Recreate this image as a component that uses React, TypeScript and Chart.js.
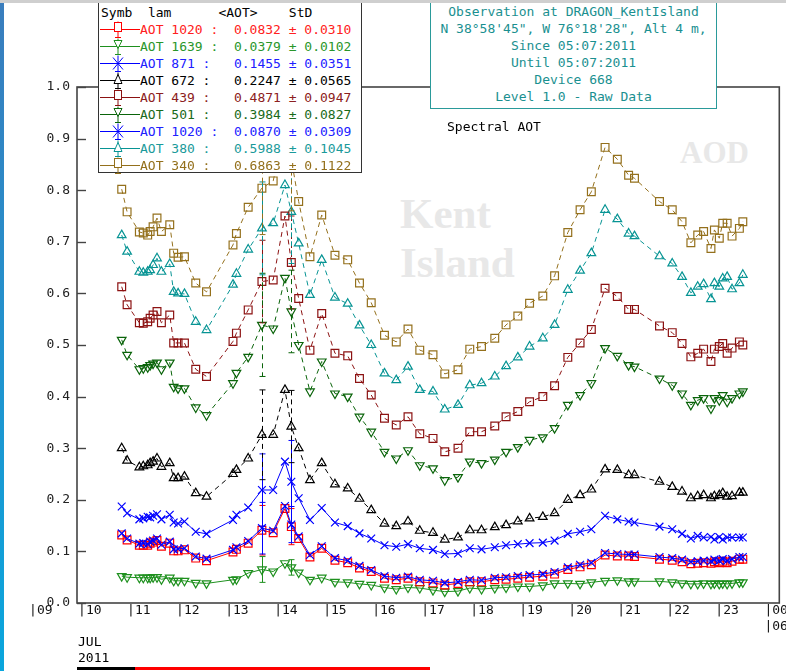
import React, { useEffect, useRef } from 'react';
import { Chart, registerables } from 'chart.js';

Chart.register(...registerables);

// ---- data (hours UTC, 05 Jul 2011) ----
const TIMES = [10.81, 10.92, 11.17, 11.25, 11.34, 11.39, 11.45, 11.53, 11.62, 11.79, 11.87, 11.96, 12.09, 12.32, 12.54, 13.08, 13.15, 13.39, 13.67, 13.90, 14.14, 14.27, 14.42, 14.65, 14.89, 15.16, 15.42, 15.66, 15.90, 16.17, 16.41, 16.65, 16.89, 17.16, 17.40, 17.67, 17.91, 18.15, 18.42, 18.65, 18.89, 19.13, 19.40, 19.64, 19.91, 20.16, 20.39, 20.67, 20.92, 21.15, 21.27, 21.78, 22.04, 22.24, 22.42, 22.56, 22.68, 22.83, 22.90, 23.00, 23.07, 23.16, 23.26, 23.41, 23.48];

const AOT_1020_A = [0.132, 0.122, 0.112, 0.112, 0.112, 0.116, 0.118, 0.121, 0.110, 0.116, 0.101, 0.101, 0.103, 0.087, 0.082, 0.099, 0.104, 0.116, 0.141, 0.136, 0.183, 0.148, 0.125, 0.089, 0.106, 0.083, 0.078, 0.068, 0.061, 0.048, 0.045, 0.048, 0.041, 0.039, 0.035, 0.038, 0.041, 0.041, 0.045, 0.046, 0.048, 0.050, 0.052, 0.056, 0.065, 0.070, 0.074, 0.093, 0.091, 0.091, 0.090, 0.085, 0.083, 0.080, 0.076, 0.077, 0.078, 0.077, 0.080, 0.078, 0.081, 0.078, 0.081, 0.085, 0.085];
const AOT_1639 = [0.052, 0.050, 0.049, 0.049, 0.049, 0.049, 0.050, 0.050, 0.046, 0.049, 0.043, 0.043, 0.043, 0.039, 0.038, 0.045, 0.046, 0.058, 0.065, 0.061, 0.077, 0.069, 0.059, 0.045, 0.049, 0.041, 0.040, 0.037, 0.035, 0.030, 0.027, 0.030, 0.029, 0.025, 0.022, 0.023, 0.029, 0.027, 0.029, 0.030, 0.032, 0.032, 0.034, 0.038, 0.038, 0.037, 0.040, 0.043, 0.044, 0.042, 0.042, 0.042, 0.040, 0.038, 0.037, 0.037, 0.038, 0.037, 0.038, 0.037, 0.038, 0.037, 0.038, 0.040, 0.040];
const AOT_871 = [0.187, 0.174, 0.162, 0.164, 0.167, 0.166, 0.169, 0.172, 0.162, 0.171, 0.156, 0.154, 0.158, 0.138, 0.134, 0.161, 0.171, 0.185, 0.219, 0.219, 0.274, 0.235, 0.203, 0.161, 0.184, 0.156, 0.149, 0.135, 0.125, 0.112, 0.109, 0.114, 0.106, 0.103, 0.095, 0.096, 0.106, 0.104, 0.108, 0.112, 0.114, 0.116, 0.117, 0.121, 0.134, 0.138, 0.143, 0.169, 0.162, 0.158, 0.156, 0.148, 0.143, 0.134, 0.125, 0.130, 0.127, 0.128, 0.123, 0.128, 0.123, 0.127, 0.127, 0.127, 0.127];
const AOT_672 = [0.300, 0.276, 0.263, 0.265, 0.267, 0.271, 0.274, 0.280, 0.264, 0.271, 0.242, 0.242, 0.245, 0.213, 0.206, 0.250, 0.258, 0.280, 0.326, 0.326, 0.413, 0.342, 0.300, 0.238, 0.271, 0.230, 0.222, 0.202, 0.180, 0.154, 0.149, 0.158, 0.140, 0.136, 0.123, 0.127, 0.141, 0.141, 0.147, 0.151, 0.158, 0.164, 0.167, 0.174, 0.200, 0.209, 0.220, 0.259, 0.258, 0.248, 0.248, 0.235, 0.225, 0.216, 0.203, 0.207, 0.209, 0.203, 0.207, 0.209, 0.213, 0.206, 0.207, 0.214, 0.214];
const AOT_439 = [0.613, 0.578, 0.543, 0.542, 0.545, 0.552, 0.558, 0.565, 0.543, 0.558, 0.504, 0.504, 0.504, 0.453, 0.439, 0.507, 0.523, 0.568, 0.623, 0.626, 0.750, 0.660, 0.590, 0.490, 0.561, 0.484, 0.479, 0.435, 0.403, 0.358, 0.345, 0.361, 0.328, 0.319, 0.293, 0.300, 0.332, 0.332, 0.343, 0.361, 0.371, 0.390, 0.400, 0.421, 0.476, 0.504, 0.530, 0.610, 0.594, 0.569, 0.569, 0.537, 0.524, 0.503, 0.477, 0.484, 0.492, 0.468, 0.492, 0.497, 0.503, 0.484, 0.494, 0.506, 0.500];
const AOT_501 = [0.510, 0.481, 0.453, 0.455, 0.457, 0.461, 0.464, 0.466, 0.453, 0.466, 0.419, 0.416, 0.416, 0.379, 0.364, 0.426, 0.446, 0.477, 0.539, 0.532, 0.630, 0.565, 0.500, 0.410, 0.468, 0.406, 0.400, 0.361, 0.332, 0.293, 0.280, 0.296, 0.267, 0.261, 0.238, 0.244, 0.274, 0.271, 0.278, 0.293, 0.302, 0.316, 0.321, 0.339, 0.384, 0.403, 0.426, 0.494, 0.479, 0.461, 0.458, 0.435, 0.422, 0.406, 0.384, 0.393, 0.397, 0.377, 0.397, 0.393, 0.403, 0.390, 0.397, 0.406, 0.410];
const AOT_1020_B = [0.135, 0.125, 0.115, 0.116, 0.114, 0.119, 0.121, 0.125, 0.113, 0.119, 0.104, 0.105, 0.106, 0.090, 0.086, 0.103, 0.108, 0.120, 0.145, 0.140, 0.188, 0.152, 0.129, 0.093, 0.110, 0.087, 0.082, 0.072, 0.064, 0.052, 0.049, 0.051, 0.045, 0.043, 0.039, 0.041, 0.045, 0.044, 0.049, 0.050, 0.052, 0.054, 0.056, 0.060, 0.069, 0.074, 0.078, 0.097, 0.095, 0.094, 0.094, 0.089, 0.087, 0.084, 0.080, 0.081, 0.082, 0.081, 0.084, 0.082, 0.085, 0.082, 0.085, 0.089, 0.089];
const AOT_380 = [0.713, 0.681, 0.642, 0.640, 0.642, 0.645, 0.655, 0.668, 0.642, 0.657, 0.603, 0.600, 0.599, 0.545, 0.529, 0.617, 0.638, 0.685, 0.726, 0.736, 0.810, 0.758, 0.697, 0.597, 0.665, 0.592, 0.580, 0.538, 0.500, 0.445, 0.432, 0.458, 0.413, 0.410, 0.375, 0.384, 0.422, 0.426, 0.439, 0.459, 0.476, 0.497, 0.513, 0.539, 0.607, 0.644, 0.678, 0.762, 0.744, 0.716, 0.711, 0.672, 0.658, 0.632, 0.601, 0.613, 0.618, 0.589, 0.620, 0.613, 0.629, 0.632, 0.608, 0.620, 0.636];
const AOT_340 = [0.802, 0.758, 0.719, 0.717, 0.713, 0.720, 0.729, 0.746, 0.720, 0.733, 0.678, 0.670, 0.671, 0.620, 0.603, 0.694, 0.716, 0.767, 0.804, 0.818, 0.920, 0.860, 0.778, 0.671, 0.752, 0.674, 0.665, 0.620, 0.582, 0.519, 0.506, 0.531, 0.490, 0.481, 0.444, 0.452, 0.492, 0.497, 0.513, 0.539, 0.556, 0.581, 0.595, 0.634, 0.718, 0.762, 0.797, 0.883, 0.860, 0.829, 0.823, 0.778, 0.762, 0.739, 0.698, 0.713, 0.720, 0.687, 0.723, 0.707, 0.736, 0.736, 0.711, 0.726, 0.739];

// wide error bars (half-width in AOT) at the measurements of 13.67 h and 14.27 h
const ERR_IDX = [18, 21];
const ERR_1020_A = [0.048, 0.035];
const ERR_1639 = [0.025, 0.015];
const ERR_871 = [0.07, 0.08];
const ERR_672 = [0.087, 0.07];
const ERR_439 = [0.08, 0.09];
const ERR_501 = [0.1, 0.08];
const ERR_1020_B = [0.05, 0.035];
const ERR_380 = [0.09, 0.1];
const ERR_340 = [0.09, 0.1];

const LEGEND_TEXT = [
  'AOT 1020 :  0.0832 ± 0.0310',
  'AOT 1639 :  0.0379 ± 0.0102',
  'AOT 871 :   0.1455 ± 0.0351',
  'AOT 672 :   0.2247 ± 0.0565',
  'AOT 439 :   0.4871 ± 0.0947',
  'AOT 501 :   0.3984 ± 0.0827',
  'AOT 1020 :  0.0870 ± 0.0309',
  'AOT 380 :   0.5988 ± 0.1045',
  'AOT 340 :   0.6863 ± 0.1122',
];

const X_TICK_HOURS = [9, 10, 11, 12, 13, 14, 15, 16, 17, 18, 19, 20, 21, 22, 23, 24];
const X_TICK_LABELS: (string | string[])[] = ['|09', '|10', '|11', '|12', '|13', '|14', '|15', '|16', '|17', '|18', '|19', '|20', '|21', '|22', '|23', ['|00', '|06']];

const INFO_LINES = [
  'Observation at DRAGON_KentIsland',
  'N 38°58\'45", W 76°18\'28", Alt 4 m,',
  'Since 05:07:2011',
  'Until 05:07:2011',
  'Device 668',
  'Level 1.0 - Raw Data',
];

// ---- styles ----
const MONO = '"DejaVu Sans Mono", monospace';
const X_MIN = 9.898;
const X_MAX = 24.224;
const LABEL_SHIFT = 0.08;

type Marker = 'square' | 'down' | 'x' | 'up';
interface Series { data: number[]; err: number[]; color: string; text: string; marker: Marker; dashed: boolean; order: number; }

const SERIES: Series[] = [
  { data: AOT_1020_A, err: ERR_1020_A, color: '#ff0000', text: '#ff2020', marker: 'square', dashed: false, order: 1 },
  { data: AOT_1639, err: ERR_1639, color: '#1e901e', text: '#2a962a', marker: 'down', dashed: false, order: 2 },
  { data: AOT_871, err: ERR_871, color: '#0000ff', text: '#2020ff', marker: 'x', dashed: false, order: 3 },
  { data: AOT_672, err: ERR_672, color: '#000000', text: '#000000', marker: 'up', dashed: true, order: 4 },
  { data: AOT_439, err: ERR_439, color: '#8c1212', text: '#8c2020', marker: 'square', dashed: true, order: 5 },
  { data: AOT_501, err: ERR_501, color: '#0a640a', text: '#1a6a1a', marker: 'down', dashed: true, order: 6 },
  { data: AOT_1020_B, err: ERR_1020_B, color: '#0000ff', text: '#2020ff', marker: 'x', dashed: false, order: 0 },
  { data: AOT_380, err: ERR_380, color: '#079494', text: '#1a9a9a', marker: 'up', dashed: true, order: 7 },
  { data: AOT_340, err: ERR_340, color: '#94701c', text: '#94701c', marker: 'square', dashed: true, order: 8 },
];

const pointStyleOf = (m: Marker) => (m === 'square' ? 'rect' : m === 'x' ? 'crossRot' : 'triangle');
const radiusOf = (m: Marker) => (m === 'square' ? 5.5 : m === 'x' ? 5.5 : 5);

const errorBarPlugin = {
  id: 'errorBars',
  afterDatasetsDraw(chart: any) {
    const { ctx, chartArea: a } = chart;
    const ys = chart.scales.y;
    ctx.save();
    ctx.beginPath();
    ctx.rect(a.left, a.top, a.right - a.left, a.bottom - a.top);
    ctx.clip();
    chart.data.datasets.forEach((ds: any, di: number) => {
      const meta = chart.getDatasetMeta(di);
      const errs: number[] = ds.errors || [];
      ctx.strokeStyle = ds.borderColor;
      ctx.lineWidth = 1;
      ERR_IDX.forEach((idx, k) => {
        const el = meta.data[idx];
        if (!el) return;
        const v = ds.data[idx].y;
        const e = errs[k];
        const x = Math.round(el.x) + 0.5;
        const y1 = ys.getPixelForValue(v + e);
        const y2 = ys.getPixelForValue(v - e);
        ctx.setLineDash(ds.borderDash || []);
        ctx.beginPath();
        ctx.moveTo(x, y1);
        ctx.lineTo(x, y2);
        ctx.stroke();
        ctx.setLineDash([]);
        ctx.beginPath();
        ctx.moveTo(x - 3, y1);
        ctx.lineTo(x + 3, y1);
        ctx.moveTo(x - 3, y2);
        ctx.lineTo(x + 3, y2);
        ctx.stroke();
      });
    });
    ctx.restore();
  },
};

const framePlugin = {
  id: 'frame',
  afterDraw(chart: any) {
    const { ctx, chartArea: a } = chart;
    const ys = chart.scales.y;
    ctx.save();
    ctx.strokeStyle = '#444';
    ctx.lineWidth = 1.6;
    ctx.strokeRect(a.left, a.top, a.right - a.left, a.bottom - a.top);
    ctx.lineWidth = 1.4;
    ys.ticks.forEach((t: any) => {
      const p = Math.round(ys.getPixelForValue(t.value)) + 0.5;
      ctx.beginPath();
      ctx.moveTo(a.left, p);
      ctx.lineTo(a.left + 9, p);
      ctx.stroke();
    });
    ctx.restore();
  },
};

function LegendSymbol({ color, marker }: { color: string; marker: Marker }) {
  const cx = 18;
  const cy = 8.5;
  let shape: React.ReactNode = null;
  if (marker === 'square') shape = <rect x={cx - 3.5} y={cy - 7} width={7} height={9} fill="#fff" stroke={color} />;
  if (marker === 'down') shape = <polygon points={`${cx - 4},${cy - 6} ${cx + 4},${cy - 6} ${cx},${cy + 2}`} fill="#fff" stroke={color} />;
  if (marker === 'up') shape = <polygon points={`${cx - 4},${cy + 3} ${cx + 4},${cy + 3} ${cx},${cy - 6}`} fill="#fff" stroke={color} />;
  if (marker === 'x') shape = <path d={`M${cx - 5},${cy - 6} L${cx + 5},${cy + 6} M${cx + 5},${cy - 6} L${cx - 5},${cy + 6}`} stroke={color} />;
  return (
    <svg width={40} height={17} style={{ position: 'absolute', left: 1, top: 0, overflow: 'visible' }}>
      <line x1={0} y1={cy} x2={40} y2={cy} stroke={color} strokeWidth={1} />
      <line x1={cx} y1={cy - 8} x2={cx} y2={cy + 8} stroke={color} strokeWidth={1} />
      <line x1={cx - 3} y1={cy + 8} x2={cx + 3} y2={cy + 8} stroke={color} strokeWidth={1} />
      {shape}
    </svg>
  );
}

export default function App() {
  const canvasRef = useRef<HTMLCanvasElement | null>(null);

  useEffect(() => {
    const canvas = canvasRef.current;
    if (!canvas) return;
    const datasets = SERIES.map((s) => ({
      data: TIMES.map((t, i) => ({ x: t, y: s.data[i] })),
      errors: s.err,
      borderColor: s.color,
      backgroundColor: 'rgba(0,0,0,0)',
      borderWidth: 1,
      borderDash: s.dashed ? [5, 4] : [],
      pointStyle: pointStyleOf(s.marker),
      pointRotation: s.marker === 'down' ? 180 : 0,
      pointRadius: radiusOf(s.marker),
      pointBorderWidth: 1.2,
      pointBorderColor: s.color,
      pointBackgroundColor: 'rgba(0,0,0,0)',
      tension: 0,
      order: s.order,
    }));

    const chart = new Chart(canvas, {
      type: 'line',
      data: { datasets } as any,
      plugins: [errorBarPlugin, framePlugin],
      options: {
        animation: false,
        responsive: false,
        devicePixelRatio: 1,
        layout: { padding: { left: 0, right: 6, top: 87, bottom: 0 } },
        plugins: { legend: { display: false }, tooltip: { enabled: false }, title: { display: false } },
        scales: {
          x: {
            type: 'linear',
            min: X_MIN,
            max: X_MAX,
            grid: { display: false, drawTicks: false },
            border: { display: false },
            ticks: {
              autoSkip: false,
              maxRotation: 0,
              minRotation: 0,
              padding: 0,
              align: 'start',
              color: '#111',
              font: { family: MONO, size: 13 },
              callback: (_v: any, i: number) => X_TICK_LABELS[i],
            },
            afterBuildTicks: (s: any) => {
              s.ticks = X_TICK_HOURS.map((h) => ({ value: h - LABEL_SHIFT }));
            },
            afterFit: (s: any) => {
              s.height = 68;
              s.paddingLeft = 0;
              s.paddingRight = 0;
            },
          },
          y: {
            min: 0,
            max: 1,
            grid: { display: false, drawTicks: false },
            border: { display: false },
            ticks: {
              stepSize: 0.1,
              padding: 7,
              color: '#222',
              font: { family: MONO, size: 13 },
              callback: (v: any) => Number(v).toFixed(1),
            },
            afterFit: (s: any) => {
              s.width = 77;
              s.paddingTop = 0;
              s.paddingBottom = 0;
            },
          },
        },
      } as any,
    });
    return () => chart.destroy();
  }, []);

  const abs = (o: React.CSSProperties): React.CSSProperties => ({ position: 'absolute', ...o });

  return (
    <div style={{ position: 'fixed', left: 0, top: 0, width: 786, height: 671, background: '#fff', overflow: 'hidden' }}>
      <div style={abs({ left: 0, top: 0, width: 4, height: 671, background: 'linear-gradient(#3a7dbd, #0aa6dd)' })} />
      <div style={abs({ left: 400, top: 189, fontFamily: '"Liberation Serif", serif', fontWeight: 'bold', fontSize: 43, lineHeight: '49px', color: '#e8e8e8', whiteSpace: 'pre' })}>
        {'Kent\nIsland'}
      </div>
      <div style={abs({ left: 680, top: 137, fontFamily: '"Liberation Serif", serif', fontWeight: 'bold', fontSize: 31, lineHeight: '31px', color: '#e8e8e8' })}>AOD</div>
      <canvas ref={canvasRef} width={786} height={671} style={abs({ left: 0, top: 0, width: 786, height: 671 })} />
      <div style={abs({ left: 447, top: 118, fontFamily: MONO, fontSize: 13, lineHeight: '17px', color: '#000', whiteSpace: 'pre' })}>Spectral AOT</div>

      <div style={abs({ left: 98, top: 1, width: 262, height: 170, border: '1px solid #333', background: '#fff', fontFamily: MONO, fontSize: 13, lineHeight: '17px' })}>
        <div style={abs({ left: 2, top: 2, height: 17, whiteSpace: 'pre', color: '#000' })}>{'Symb  lam      <AOT>    StD'}</div>
        {SERIES.map((s, i) => (
          <div key={i} style={abs({ left: 0, top: 2 + 17 * (i + 1), width: 262, height: 17 })}>
            <LegendSymbol color={s.color} marker={s.marker} />
            <div style={abs({ left: 41, top: 0, whiteSpace: 'pre', color: s.text })}>{LEGEND_TEXT[i]}</div>
          </div>
        ))}
      </div>

      <div style={abs({ left: 430, top: -1, width: 285, height: 105, border: '1px solid #2a9a9a', background: '#fff', fontFamily: MONO, fontSize: 13, lineHeight: '17px', color: '#1a9090', textAlign: 'center', paddingTop: 3, boxSizing: 'content-box' })}>
        {INFO_LINES.map((l, i) => (
          <div key={i} style={{ whiteSpace: 'pre' }}>{l}</div>
        ))}
      </div>

      <div style={abs({ left: 78, top: 634, fontFamily: MONO, fontSize: 13, lineHeight: '16px', color: '#000', whiteSpace: 'pre' })}>{'JUL\n2011'}</div>
      <div style={abs({ left: 77, top: 667, width: 58, height: 3, background: '#000' })} />
      <div style={abs({ left: 135, top: 667, width: 295, height: 3, background: '#ff0000' })} />
      <div style={abs({ left: 0, top: 0, width: 786, height: 3, background: '#cfcfcf' })} />
    </div>
  );
}
